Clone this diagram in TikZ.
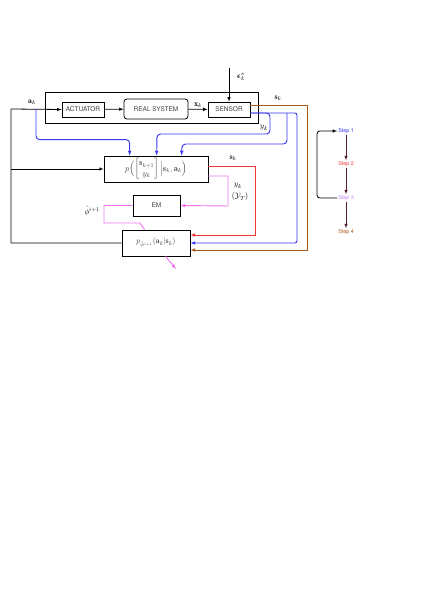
\documentclass[tikz,border=0pt]{standalone}
\usepackage{amsmath,amssymb}
\usepackage{fontspec}
\setsansfont{TeX Gyre Heros}
\usetikzlibrary{calc}

\definecolor{obsblue}{RGB}{55,55,245}
\definecolor{statered}{RGB}{240,55,55}
\definecolor{emviolet}{RGB}{240,115,240}
\definecolor{statebrown}{RGB}{170,90,25}
\definecolor{stepviolet}{RGB}{195,135,250}
\definecolor{steparrow}{RGB}{80,30,55}

\tikzset{
    block/.style={draw, line width=1.1pt, minimum height=0.73cm, font=\sffamily\small, text=black!75},
    wire/.style={line width=1.3pt},
    steplabel/.style={font=\sffamily\fontsize{7.5}{9}\selectfont, inner sep=1pt},
    mlabel/.style={font=\fontsize{11}{13}\selectfont, inner sep=1pt},
}

\begin{document}
\begin{tikzpicture}[>=latex, x=0.0488cm, y=-0.0488cm, line width=1.1pt]
    \useasboundingbox (0,0) rectangle (431,608);

    \node[block, minimum width=10.39cm, minimum height=1.51cm] (plant) at (151.5,107.5) {};
    \node[block, minimum width=2.05cm] (act) at (83,109.5) {ACTUATOR};
    \node[block, rounded corners=4pt, minimum width=3.12cm, minimum height=0.98cm] (sys) at (156,109) {REAL SYSTEM};
    \node[block, minimum width=2.05cm] (sensor) at (229,109.5) {SENSOR};
    \node[block, minimum width=5.07cm, minimum height=1.27cm, font=\large] (model) at (156,169)
        {$p\Bigl(\begin{bmatrix}\mathbf{s}_{k+1}\\ y_k\end{bmatrix}\Big|\mathbf{s}_k,\mathbf{a}_k\Bigr)$};
    \node[block, minimum width=2.29cm, minimum height=1.02cm] (em) at (156.5,205.5) {EM};
    \node[block, minimum width=3.32cm, minimum height=1.27cm, font=\fontsize{11}{13}\selectfont] (policy) at (156,243)
        {$p_{\hat{\phi}^{i+1}}(\mathbf{a}_k|\mathbf{s}_k)$};

    \coordinate (fb) at (11,109);
    \coordinate (aout) at (36,109);
    \coordinate (eps) at (229,68);
    \coordinate (br) at (287,113);
    \coordinate (out) at (176,269);

    % plant chain
    \draw[->] (policy.west) -| (fb) -- (act.west);
    \draw[->] (fb |- model.west) -- (model.west);
    \node[mlabel] (aklab) at (32,102) {$\mathbf{a}_k$};
    \draw[->] (act) -- (sys);
    \draw[->] (sys) -- node[mlabel, above=1pt] {$\mathbf{x}_k$} (sensor);
    \draw[->] (eps) -- (sensor);
    \node[mlabel] (epslab) at (241,77) {$\boldsymbol{\epsilon}^{s}_{k}$};

    % observations
    \draw[wire, obsblue, ->, rounded corners=5pt] (aout) |- ($(model.north west)+(26,-16)$) -- ($(model.north west)+(26,0)$);
    \draw[wire, obsblue, ->, rounded corners=5pt] ($(sensor.east)+(0,3.5)$) -- (270,113) -- (270,134) -- (157,134) -- ($(model.north west)+(53,0)$);
    \node[mlabel] (yklab) at (264,128) {$y_k$};
    \draw[wire, obsblue, ->, rounded corners=3pt] ($(sensor.east)+(0,3.5)$) -- (297,113) -- (297,243) -- (policy.east);
    \draw[wire, obsblue, ->, rounded corners=5pt] (br) -- (287,144) -- (182,144) -- ($(model.north west)+(78,0)$);

    % states
    \draw[wire, statebrown, ->] ($(sensor.east)+(0,-4.5)$) -- (307,105) -- (307,250) -- ($(policy.east)+(0,7)$);
    \node[mlabel] (sklab1) at (278,98) {$\mathbf{s}_k$};
    \draw[wire, statered, ->] ($(model.east)+(0,-3)$) -- (255,166) -- (255,235) -- ($(policy.east)+(0,-8)$);
    \node[mlabel] (sklab2) at (233,158) {$\mathbf{s}_k$};

    % EM loop
    \draw[wire, emviolet, ->] ($(model.east)+(0,7)$) -- (228,176) -- (228,206) -- (em.east);
    \node[mlabel] (ylab) at (238,186) {$y_k$};
    \node[mlabel] (Ylab) at (240,197) {$(\mathcal{Y}_T)$};
    \draw[wire, emviolet] (em.west) -- (104,205.5) -- (104,223) -- (140,223) -- ($(policy.north west)+(23,0)$);
    \node[mlabel] (philab) at (92,211) {$\hat{\phi}^{i+1}$};
    \draw[wire, emviolet, ->] ($(policy.south west)+(44,0)$) -- (out);

    % steps
    \foreach \n/\c/\y in {1/obsblue/131, 2/statered/164, 3/stepviolet/198, 4/statebrown/232}
        \node[steplabel, text=\c] (step\n) at (346,\y) {Step \n};
    \foreach \a/\b in {1/2, 2/3, 3/4}
        \draw[steparrow, ->] (step\a) -- (step\b);
    \draw[->, rounded corners=4pt] (step3.west) -- (317,198) -- (317,131) -- (step1.west);

\end{tikzpicture}
\end{document}
